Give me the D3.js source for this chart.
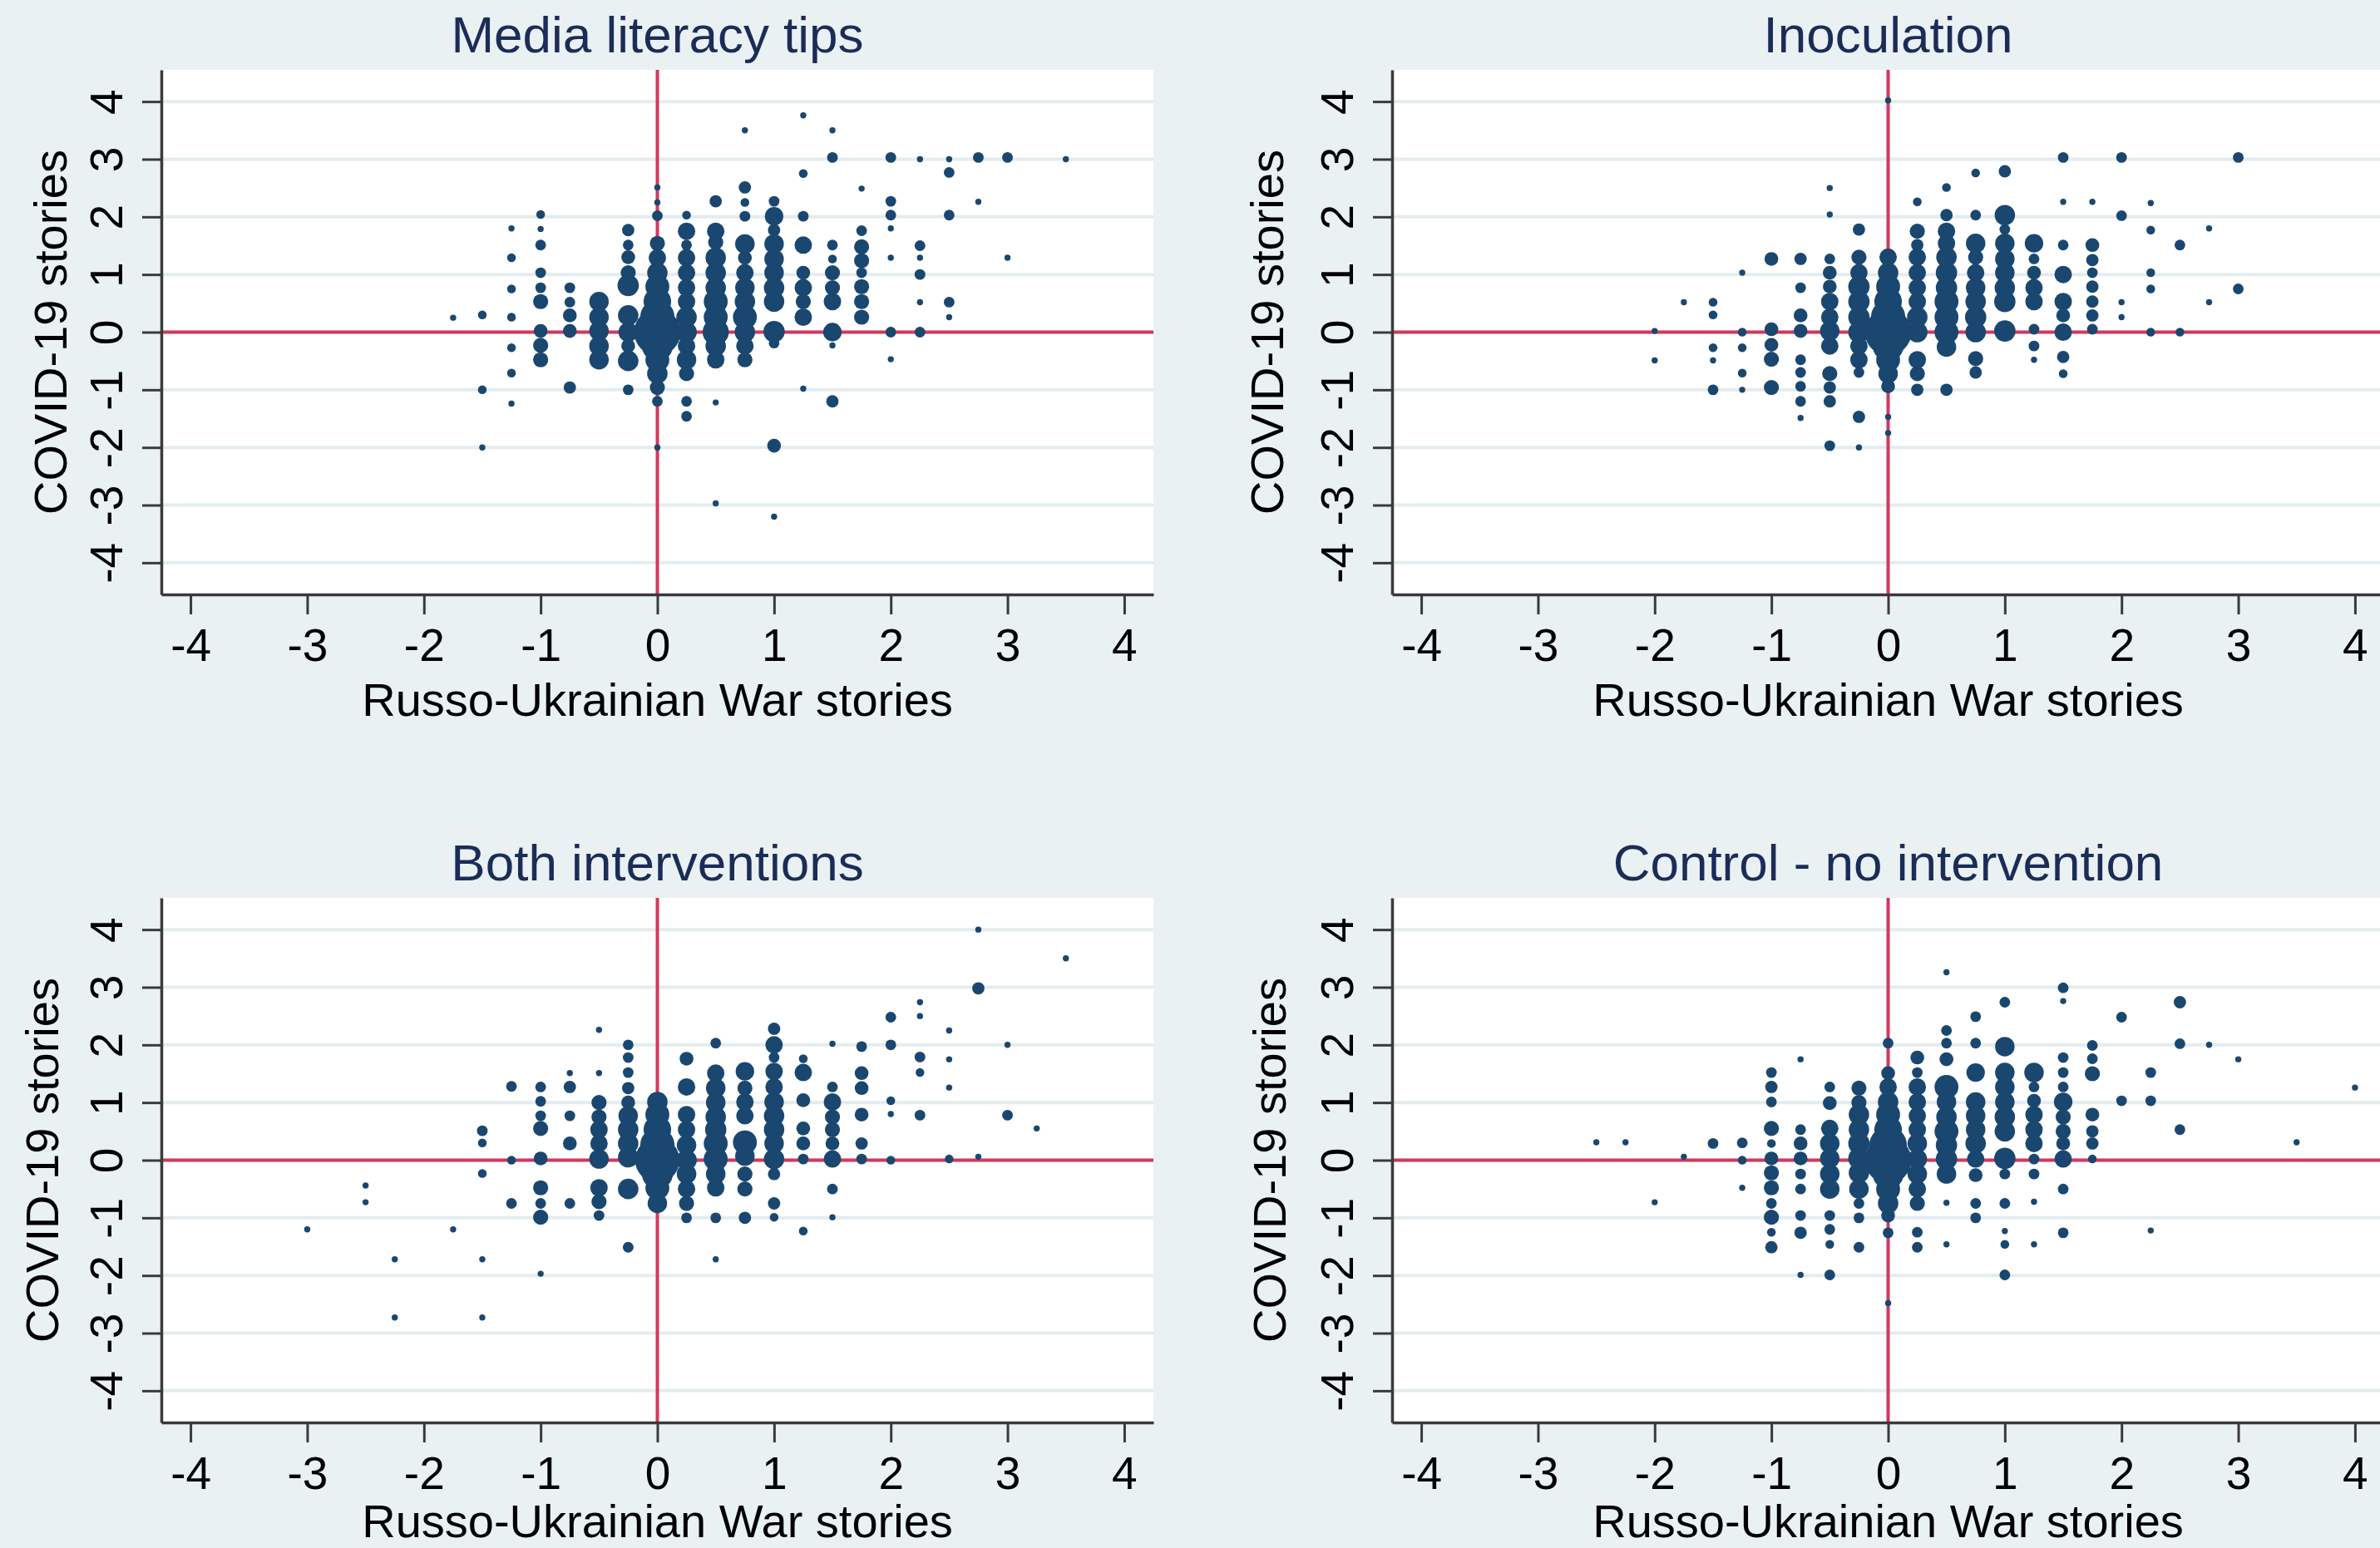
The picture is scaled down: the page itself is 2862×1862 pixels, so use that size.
<!DOCTYPE html>
<html>
<head>
<meta charset="utf-8">
<script src="https://cdn.jsdelivr.net/npm/d3@7"></script>
<style>
  body { margin: 0; background: #e9f1f3; }
  svg { display: block; }
</style>
</head>
<body>
<svg id="chart"></svg>
<script>
// panel titles and shared axis labels
const panelTitles = ["Media literacy tips", "Inoculation", "Both interventions", "Control - no intervention"];
const xTitle = "Russo-Ukrainian War stories";
const yTitle = "COVID-19 stories";
const xTicks = [-4, -3, -2, -1, 0, 1, 2, 3, 4];
const yTicks = [-4, -3, -2, -1, 0, 1, 2, 3, 4];

// [war stories, covid stories, frequency weight]
const mediaTips = [
  [-1.75, 0.25, 1],
  [-1.5, 0.3, 2], [-1.5, -1.0, 2], [-1.5, -2.0, 1],
  [-1.25, 1.8, 1], [-1.25, 1.29, 2], [-1.25, 0.75, 2], [-1.25, 0.26, 2], [-1.25, -0.27, 2], [-1.25, -0.71, 2], [-1.25, -1.24, 1],
  [-1, 2.04, 2], [-1, 1.79, 1], [-1, 1.51, 3], [-1, 1.03, 3], [-1, 0.77, 3], [-1, 0.53, 6], [-1, 0.02, 5], [-1, -0.23, 6], [-1, -0.48, 6],
  [-0.75, 0.77, 3], [-0.75, 0.52, 3], [-0.75, 0.29, 5], [-0.75, 0.02, 5], [-0.75, -0.96, 4],
  [-0.5, 0.53, 10], [-0.5, 0.26, 10], [-0.5, 0.02, 10], [-0.5, -0.24, 10], [-0.5, -0.48, 10],
  [-0.25, 1.77, 4], [-0.25, 1.51, 3], [-0.25, 1.3, 5], [-0.25, 1.03, 6], [-0.25, 0.81, 12], [-0.25, 0.29, 11], [-0.25, 0, 10], [-0.25, -0.24, 5], [-0.25, -0.5, 11], [-0.25, -1.0, 3],
  [0, 2.51, 1], [0, 2.25, 1], [0, 2.02, 3], [0, 1.54, 6], [0, 1.29, 8], [0, 1.03, 11], [0, 0.79, 15], [0, 0.53, 20], [0, 0.26, 31], [0, 0, 57], [0, -0.24, 25], [0, -0.48, 15], [0, -0.72, 11], [0, -0.96, 6], [0, -1.2, 3], [0, -2.0, 1],
  [0.25, 2.03, 2], [0.25, 1.75, 8], [0.25, 1.51, 3], [0.25, 1.29, 8], [0.25, 1.03, 8], [0.25, 0.77, 8], [0.25, 0.53, 8], [0.25, 0.26, 11], [0.25, 0, 11], [0.25, -0.24, 8], [0.25, -0.48, 10], [0.25, -0.72, 6], [0.25, -1.2, 3], [0.25, -1.46, 3],
  [0.5, 2.27, 4], [0.5, 1.75, 8], [0.5, 1.56, 6], [0.5, 1.29, 11], [0.5, 1.03, 11], [0.5, 0.77, 11], [0.5, 0.53, 15], [0.5, 0.26, 15], [0.5, 0, 18], [0.5, -0.24, 11], [0.5, -0.48, 8], [0.5, -1.22, 1], [0.5, -2.97, 1],
  [0.75, 3.5, 1], [0.75, 2.51, 4], [0.75, 2.25, 2], [0.75, 2.01, 3], [0.75, 1.53, 10], [0.75, 1.29, 5], [0.75, 1.03, 8], [0.75, 0.77, 10], [0.75, 0.53, 11], [0.75, 0.26, 15], [0.75, 0, 11], [0.75, -0.24, 8], [0.75, -0.48, 6],
  [1, 2.27, 3], [1, 2.01, 9], [1, 1.77, 4], [1, 1.53, 10], [1, 1.27, 10], [1, 1.03, 10], [1, 0.77, 11], [1, 0.53, 11], [1, 0.01, 12], [1, -0.19, 3], [1, -1.97, 5], [1, -3.2, 1],
  [1.25, 3.76, 1], [1.25, 2.75, 2], [1.25, 2.01, 3], [1.25, 1.51, 8], [1.25, 1.03, 5], [1.25, 0.77, 8], [1.25, 0.53, 6], [1.25, 0.26, 8], [1.25, -0.98, 1],
  [1.5, 3.5, 1], [1.5, 3.03, 3], [1.5, 1.51, 3], [1.5, 1.27, 2], [1.5, 1.03, 6], [1.5, 0.77, 6], [1.5, 0.53, 8], [1.5, 0, 9], [1.5, -0.23, 1], [1.5, -1.2, 4],
  [1.75, 2.49, 1], [1.75, 1.76, 3], [1.75, 1.48, 6], [1.75, 1.24, 6], [1.75, 1.03, 3], [1.75, 0.79, 6], [1.75, 0.53, 6], [1.75, 0.26, 6],
  [2, 3.03, 3], [2, 2.27, 3], [2, 2.03, 3], [2, 1.8, 1], [2, 1.29, 1], [2, 0, 3], [2, -0.47, 1],
  [2.25, 3.0, 1], [2.25, 1.5, 3], [2.25, 1.29, 1], [2.25, 1.0, 3], [2.25, 0.52, 1], [2.25, 0, 3],
  [2.5, 3.0, 1], [2.5, 2.77, 3], [2.5, 2.03, 3], [2.5, 0.52, 3], [2.5, 0.26, 1],
  [2.75, 3.03, 3], [2.75, 2.26, 1], [3, 3.03, 3], [3, 1.29, 1], [3.5, 3.0, 1]
];

const inoculation = [
  [-2, 0.02, 1], [-2, -0.49, 1], [-1.75, 0.52, 1],
  [-1.5, 0.52, 2], [-1.5, 0.3, 2], [-1.5, -0.27, 2], [-1.5, -0.49, 1], [-1.5, -1.0, 3],
  [-1.25, 1.03, 1], [-1.25, 0, 2], [-1.25, -0.27, 2], [-1.25, -0.71, 2], [-1.25, -1.0, 1],
  [-1, 1.27, 5], [-1, 0.05, 5], [-1, -0.22, 5], [-1, -0.47, 6], [-1, -0.96, 6],
  [-0.75, 1.27, 4], [-0.75, 0.77, 3], [-0.75, 0.29, 5], [-0.75, 0.02, 5], [-0.75, -0.48, 3], [-0.75, -0.7, 3], [-0.75, -0.94, 3], [-0.75, -1.2, 3], [-0.75, -1.49, 1],
  [-0.5, 2.5, 1], [-0.5, 2.04, 1], [-0.5, 1.27, 3], [-0.5, 1.03, 5], [-0.5, 0.79, 5], [-0.5, 0.53, 8], [-0.5, 0.26, 8], [-0.5, 0.02, 10], [-0.5, -0.24, 8], [-0.5, -0.72, 6], [-0.5, -0.96, 4], [-0.5, -1.2, 4], [-0.5, -1.97, 3],
  [-0.25, 1.78, 4], [-0.25, 1.3, 6], [-0.25, 1.03, 8], [-0.25, 0.79, 12], [-0.25, 0.53, 12], [-0.25, 0.26, 12], [-0.25, 0, 12], [-0.25, -0.24, 8], [-0.25, -0.48, 8], [-0.25, -0.7, 3], [-0.25, -1.47, 4], [-0.25, -2.0, 1],
  [0, 4.02, 1], [0, 1.3, 8], [0, 1.03, 11], [0, 0.79, 15], [0, 0.53, 20], [0, 0.26, 31], [0, 0, 57], [0, -0.24, 25], [0, -0.48, 15], [0, -0.72, 10], [0, -0.94, 5], [0, -1.47, 1], [0, -1.75, 1],
  [0.25, 2.26, 2], [0.25, 1.75, 6], [0.25, 1.51, 4], [0.25, 1.3, 8], [0.25, 1.03, 8], [0.25, 0.77, 8], [0.25, 0.53, 8], [0.25, 0.26, 11], [0.25, 0, 11], [0.25, -0.48, 8], [0.25, -0.72, 6], [0.25, -1.0, 4],
  [0.5, 2.51, 2], [0.5, 2.03, 4], [0.5, 1.75, 8], [0.5, 1.54, 8], [0.5, 1.3, 11], [0.5, 1.03, 12], [0.5, 0.77, 12], [0.5, 0.53, 15], [0.5, 0.26, 15], [0.5, 0, 15], [0.5, -0.26, 10], [0.5, -1.0, 4],
  [0.75, 2.76, 2], [0.75, 2.03, 3], [0.75, 1.54, 10], [0.75, 1.3, 6], [0.75, 1.03, 8], [0.75, 0.77, 10], [0.75, 0.53, 11], [0.75, 0.26, 12], [0.75, 0, 11], [0.75, -0.46, 6], [0.75, -0.7, 4],
  [1, 2.79, 4], [1, 2.03, 11], [1, 1.78, 3], [1, 1.54, 10], [1, 1.27, 10], [1, 1.03, 10], [1, 0.77, 11], [1, 0.53, 12], [1, 0.02, 12],
  [1.25, 1.54, 9], [1.25, 1.27, 3], [1.25, 1.03, 5], [1.25, 0.77, 8], [1.25, 0.53, 8], [1.25, 0.05, 3], [1.25, -0.24, 3], [1.25, -0.48, 1],
  [1.5, 3.03, 3], [1.5, 2.26, 1], [1.5, 1.51, 3], [1.5, 1.0, 8], [1.5, 0.53, 8], [1.5, 0.29, 5], [1.5, 0, 8], [1.5, -0.43, 4], [1.5, -0.72, 2],
  [1.75, 2.26, 1], [1.75, 1.51, 5], [1.75, 1.25, 4], [1.75, 1.03, 3], [1.75, 0.79, 4], [1.75, 0.53, 4], [1.75, 0.29, 4], [1.75, 0.05, 3],
  [2, 3.03, 3], [2, 2.02, 3], [2, 0.52, 1], [2, 0.26, 1],
  [2.25, 2.24, 1], [2.25, 1.77, 2], [2.25, 1.03, 2], [2.25, 0.75, 2], [2.25, 0, 2],
  [2.5, 1.51, 3], [2.5, 0, 2],
  [2.75, 1.8, 1], [2.75, 0.52, 1],
  [3, 3.03, 3], [3, 0.75, 3]
];

const bothInterv = [
  [-3, -1.2, 1], [-2.5, -0.44, 1], [-2.5, -0.73, 1], [-2.25, -1.72, 1], [-2.25, -2.73, 1], [-1.75, -1.2, 1],
  [-1.5, 0.51, 3], [-1.5, 0.3, 2], [-1.5, -0.23, 2], [-1.5, -1.72, 1], [-1.5, -2.73, 1],
  [-1.25, 1.28, 3], [-1.25, 0, 2], [-1.25, -0.75, 3],
  [-1, 1.27, 3], [-1, 1.02, 3], [-1, 0.77, 3], [-1, 0.55, 6], [-1, 0.03, 5], [-1, -0.48, 6], [-1, -0.75, 3], [-1, -0.99, 6], [-1, -1.97, 1],
  [-0.75, 1.51, 1], [-0.75, 1.27, 4], [-0.75, 0.77, 3], [-0.75, 0.29, 5], [-0.75, -0.75, 3],
  [-0.5, 2.26, 1], [-0.5, 1.51, 1], [-0.5, 1.0, 6], [-0.5, 0.75, 6], [-0.5, 0.53, 8], [-0.5, 0.29, 8], [-0.5, 0.02, 10], [-0.5, -0.48, 8], [-0.5, -0.72, 6], [-0.5, -0.96, 3],
  [-0.25, 2.0, 3], [-0.25, 1.78, 3], [-0.25, 1.52, 3], [-0.25, 1.25, 4], [-0.25, 1.0, 5], [-0.25, 0.77, 10], [-0.25, 0.53, 11], [-0.25, 0.29, 11], [-0.25, 0.05, 11], [-0.25, -0.5, 11], [-0.25, -1.51, 3],
  [0, 1.01, 11], [0, 0.79, 15], [0, 0.53, 20], [0, 0.26, 31], [0, 0, 52], [0, -0.24, 25], [0, -0.48, 15], [0, -0.75, 10],
  [0.25, 1.76, 5], [0.25, 1.27, 8], [0.25, 0.79, 8], [0.25, 0.53, 8], [0.25, 0.26, 10], [0.25, 0, 11], [0.25, -0.24, 10], [0.25, -0.5, 8], [0.25, -0.75, 6], [0.25, -1.0, 3],
  [0.5, 2.03, 3], [0.5, 1.51, 8], [0.5, 1.25, 10], [0.5, 1.0, 10], [0.5, 0.75, 11], [0.5, 0.53, 12], [0.5, 0.29, 15], [0.5, 0.02, 15], [0.5, -0.24, 10], [0.5, -0.48, 8], [0.5, -1.0, 3], [0.5, -1.72, 1],
  [0.75, 1.54, 9], [0.75, 1.25, 6], [0.75, 1.01, 8], [0.75, 0.77, 8], [0.75, 0.31, 15], [0.75, 0.07, 10], [0.75, -0.24, 6], [0.75, -0.5, 6], [0.75, -1.0, 4],
  [1, 2.28, 4], [1, 2.0, 8], [1, 1.78, 3], [1, 1.54, 8], [1, 1.27, 8], [1, 1.01, 10], [1, 0.77, 11], [1, 0.53, 11], [1, 0.29, 10], [1, 0.02, 11], [1, -0.24, 4], [1, -0.75, 4], [1, -0.99, 2],
  [1.25, 1.76, 2], [1.25, 1.52, 8], [1.25, 1.04, 5], [1.25, 0.55, 5], [1.25, 0.29, 5], [1.25, 0.02, 3], [1.25, -1.23, 2],
  [1.5, 2.02, 1], [1.5, 1.27, 3], [1.5, 1.01, 8], [1.5, 0.75, 6], [1.5, 0.53, 6], [1.5, 0.29, 5], [1.5, 0.02, 8], [1.5, -0.5, 3], [1.5, -0.99, 1],
  [1.75, 1.97, 3], [1.75, 1.51, 5], [1.75, 1.25, 5], [1.75, 0.79, 5], [1.75, 0.29, 4], [1.75, 0.02, 3],
  [2, 2.48, 3], [2, 2.0, 3], [2, 1.03, 2], [2, 0.8, 1], [2, 0, 2],
  [2.25, 2.74, 1], [2.25, 2.5, 1], [2.25, 1.79, 3], [2.25, 1.52, 2], [2.25, 0.78, 3],
  [2.5, 2.25, 1], [2.5, 1.75, 1], [2.5, 1.26, 1], [2.5, 0.02, 2],
  [2.75, 4.0, 1], [2.75, 2.98, 4], [2.75, 0.06, 1],
  [3, 2.0, 1], [3, 0.78, 3], [3.25, 0.55, 1], [3.5, 3.5, 1]
];

const control = [
  [-2.5, 0.31, 1], [-2.25, 0.31, 1], [-2, -0.73, 1], [-1.75, 0.06, 1], [-1.5, 0.29, 3],
  [-1.25, 0.3, 3], [-1.25, 0, 2], [-1.25, -0.48, 1],
  [-1, 1.52, 3], [-1, 1.27, 4], [-1, 1.01, 3], [-1, 0.55, 6], [-1, 0.29, 2], [-1, 0.03, 5], [-1, -0.22, 6], [-1, -0.48, 6], [-1, -0.75, 3], [-1, -0.99, 6], [-1, -1.25, 2], [-1, -1.51, 4],
  [-0.75, 1.75, 1], [-0.75, 0.53, 3], [-0.75, 0.29, 5], [-0.75, 0.03, 5], [-0.75, -0.24, 3], [-0.75, -0.5, 3], [-0.75, -0.96, 3], [-0.75, -1.26, 4], [-0.75, -1.99, 1],
  [-0.5, 1.27, 3], [-0.5, 0.99, 5], [-0.5, 0.55, 8], [-0.5, 0.29, 10], [-0.5, 0.03, 10], [-0.5, -0.24, 10], [-0.5, -0.5, 10], [-0.5, -0.96, 3], [-0.5, -1.2, 3], [-0.5, -1.46, 2], [-0.5, -1.99, 3],
  [-0.25, 1.25, 6], [-0.25, 1.0, 6], [-0.25, 0.79, 11], [-0.25, 0.53, 11], [-0.25, 0.29, 12], [-0.25, 0.03, 12], [-0.25, -0.22, 11], [-0.25, -0.5, 10], [-0.25, -0.75, 3], [-0.25, -1.0, 3], [-0.25, -1.51, 3],
  [0, 2.03, 3], [0, 1.51, 5], [0, 1.27, 8], [0, 1.01, 11], [0, 0.79, 15], [0, 0.53, 20], [0, 0.26, 37], [0, 0, 57], [0, -0.24, 25], [0, -0.5, 15], [0, -0.75, 11], [0, -0.96, 5], [0, -1.26, 3], [0, -2.48, 1],
  [0.25, 1.78, 5], [0.25, 1.52, 3], [0.25, 1.27, 8], [0.25, 1.01, 8], [0.25, 0.77, 8], [0.25, 0.53, 8], [0.25, 0.29, 10], [0.25, 0.02, 10], [0.25, -0.24, 10], [0.25, -0.5, 8], [0.25, -0.75, 6], [0.25, -1.25, 3], [0.25, -1.51, 3],
  [0.5, 3.26, 1], [0.5, 2.25, 3], [0.5, 2.03, 3], [0.5, 1.75, 5], [0.5, 1.27, 15], [0.5, 1.01, 10], [0.5, 0.75, 11], [0.5, 0.5, 15], [0.5, 0.26, 12], [0.5, 0.02, 12], [0.5, -0.24, 10], [0.5, -0.74, 1], [0.5, -1.46, 1],
  [0.75, 2.49, 3], [0.75, 2.03, 3], [0.75, 1.52, 9], [0.75, 1.01, 10], [0.75, 0.77, 10], [0.75, 0.53, 10], [0.75, 0.29, 11], [0.75, 0.02, 8], [0.75, -0.26, 5], [0.75, -0.75, 3], [0.75, -1.0, 3],
  [1, 2.74, 3], [1, 1.97, 10], [1, 1.52, 10], [1, 1.27, 10], [1, 1.01, 10], [1, 0.75, 11], [1, 0.5, 11], [1, 0.03, 12], [1, -0.24, 3], [1, -0.75, 3], [1, -1.23, 1], [1, -1.46, 2], [1, -1.99, 3],
  [1.25, 1.52, 10], [1.25, 1.27, 3], [1.25, 1.03, 5], [1.25, 0.79, 8], [1.25, 0.53, 8], [1.25, 0.29, 8], [1.25, 0.02, 3], [1.25, -0.24, 3], [1.25, -0.72, 1], [1.25, -1.46, 1],
  [1.5, 2.99, 3], [1.5, 2.76, 1], [1.5, 1.78, 3], [1.5, 1.52, 3], [1.5, 1.27, 3], [1.5, 1.01, 9], [1.5, 0.75, 6], [1.5, 0.5, 6], [1.5, 0.29, 5], [1.5, 0.02, 8], [1.5, -0.5, 3], [1.5, -1.26, 3],
  [1.75, 1.99, 3], [1.75, 1.76, 3], [1.75, 1.5, 6], [1.75, 0.79, 5], [1.75, 0.5, 4], [1.75, 0.29, 4], [1.75, 0.02, 2],
  [2, 2.48, 3], [2, 1.03, 3],
  [2.25, 1.52, 3], [2.25, 1.03, 3], [2.25, -1.22, 1],
  [2.5, 2.74, 4], [2.5, 2.02, 3], [2.5, 0.53, 3],
  [2.75, 2.0, 1], [3, 1.75, 1], [3.5, 0.31, 1], [4, 1.26, 1]
];

const W = 2862, H = 1862;
const plotW = 1193, plotH = 631;
const font = "'Liberation Sans', Arial, Helvetica, sans-serif";

const svg = d3.select("#chart").attr("width", W).attr("height", H);
svg.append("rect").attr("width", W).attr("height", H).attr("fill", "#e9f1f3");

const x = d3.scaleLinear().domain([-4.25, 4.25]).range([0, plotW]);
const y = d3.scaleLinear().domain([-4.55, 4.55]).range([plotH, 0]);
// marker area proportional to the frequency weight
const r = d3.scaleSqrt().domain([0, 57]).range([0, 28]);

const panels = [
  {title: panelTitles[0], data: mediaTips,   left: 194,  top: 84,   yTitleX: 80,   xTitleDy: 146},
  {title: panelTitles[1], data: inoculation, left: 1674, top: 84,   yTitleX: 1543, xTitleDy: 146},
  {title: panelTitles[2], data: bothInterv,  left: 194,  top: 1080, yTitleX: 70,   xTitleDy: 138},
  {title: panelTitles[3], data: control,     left: 1674, top: 1080, yTitleX: 1546, xTitleDy: 138}
];

panels.forEach(function(p) {
  const g = svg.append("g").attr("transform", "translate(" + p.left + "," + p.top + ")");

  g.append("rect").attr("width", plotW).attr("height", plotH).attr("fill", "#ffffff");

  // horizontal grid
  g.selectAll(".grid")
    .data(yTicks)
    .join("line")
    .attr("class", "grid")
    .attr("x1", 0).attr("x2", plotW)
    .attr("y1", d => y(d)).attr("y2", d => y(d))
    .attr("stroke", "#e4ecef")
    .attr("stroke-width", 4);

  // reference lines at zero
  g.append("line")
    .attr("x1", x(0)).attr("x2", x(0)).attr("y1", 0).attr("y2", plotH)
    .attr("stroke", "#d2385d").attr("stroke-width", 4);
  g.append("line")
    .attr("x1", 0).attr("x2", plotW).attr("y1", y(0)).attr("y2", y(0))
    .attr("stroke", "#d2385d").attr("stroke-width", 4);

  g.selectAll(".pt")
    .data(p.data)
    .join("circle")
    .attr("class", "pt")
    .attr("cx", d => x(d[0]))
    .attr("cy", d => y(d[1]))
    .attr("r", d => r(d[2]))
    .attr("fill", "#1a476f");

  // x axis (plain hyphen for negatives, as in the original)
  const gx = g.append("g")
    .attr("transform", "translate(0," + plotH + ")")
    .call(d3.axisBottom(x).tickValues(xTicks).tickSize(24).tickSizeOuter(0).tickFormat(d => String(d)));
  gx.selectAll("text")
    .attr("y", 80).attr("dy", null)
    .attr("font-size", 55).attr("font-family", font).attr("fill", "#000");

  // y axis, labels turned like the original
  const gy = g.append("g")
    .call(d3.axisLeft(y).tickValues(yTicks).tickSize(23).tickSizeOuter(0).tickFormat(d => String(d)));
  gy.selectAll("text")
    .attr("x", null).attr("dy", null)
    .attr("text-anchor", "middle")
    .attr("transform", "translate(-47,0) rotate(-90)")
    .attr("font-size", 55).attr("font-family", font).attr("fill", "#000");

  [gx, gy].forEach(function(a) {
    a.select(".domain").attr("stroke", "#3a3a3a").attr("stroke-width", 3.5);
    a.selectAll(".tick line").attr("stroke", "#3a3a3a").attr("stroke-width", 3);
  });

  // titles
  g.append("text")
    .attr("x", x(0)).attr("y", -21)
    .attr("text-anchor", "middle")
    .attr("font-family", font).attr("font-size", 62)
    .attr("fill", "#1c2c58")
    .text(p.title);

  g.append("text")
    .attr("x", x(0)).attr("y", plotH + p.xTitleDy)
    .attr("text-anchor", "middle")
    .attr("font-family", font).attr("font-size", 56)
    .attr("fill", "#000")
    .text(xTitle);

  svg.append("text")
    .attr("transform", "translate(" + p.yTitleX + "," + (p.top + y(0)) + ") rotate(-90)")
    .attr("text-anchor", "middle")
    .attr("font-family", font).attr("font-size", 56)
    .attr("fill", "#000")
    .text(yTitle);
});
</script>
</body>
</html>
